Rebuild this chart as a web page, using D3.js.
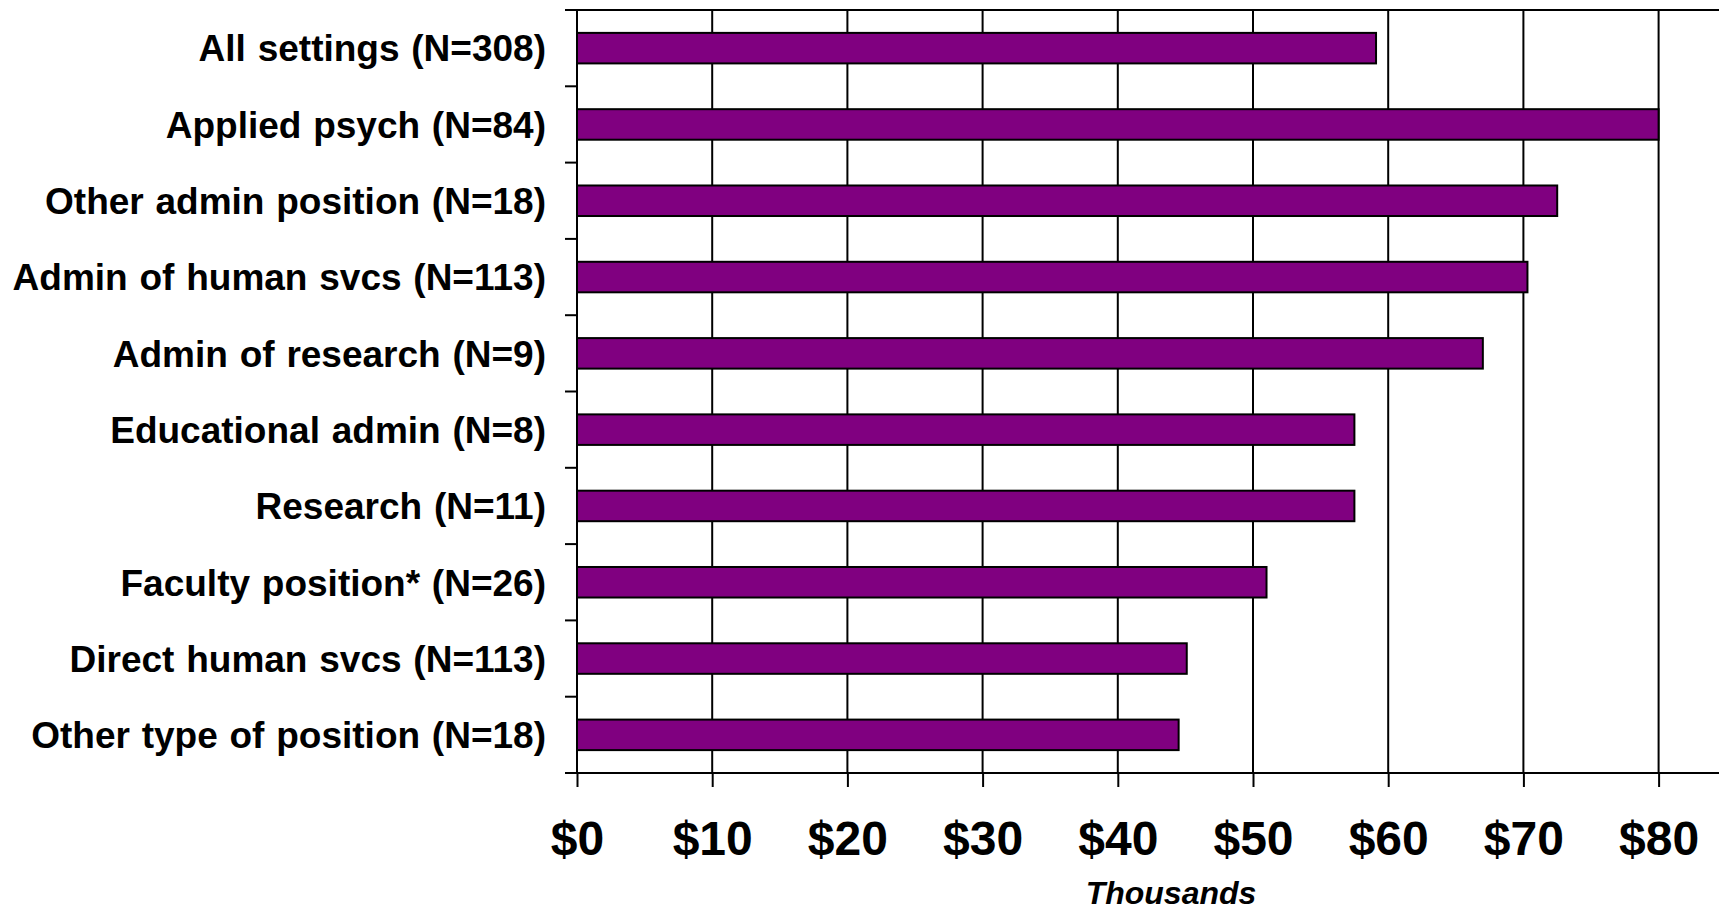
<!DOCTYPE html>
<html>
<head>
<meta charset="utf-8">
<script src="https://cdn.jsdelivr.net/npm/d3@7"></script>
<style>
  html, body { margin: 0; padding: 0; background: #fff; }
  svg { display: block; }
  text { font-family: "Liberation Sans", Arial, sans-serif; font-weight: bold; fill: #000; }
</style>
</head>
<body>
<script>
const categories = [
  "All settings (N=308)",
  "Applied psych (N=84)",
  "Other admin position (N=18)",
  "Admin of human svcs (N=113)",
  "Admin of research (N=9)",
  "Educational admin (N=8)",
  "Research (N=11)",
  "Faculty position* (N=26)",
  "Direct human svcs (N=113)",
  "Other type of position (N=18)"
];
const salaries = [59.1, 80.0, 72.5, 70.3, 67.0, 57.5, 57.5, 51.0, 45.1, 44.5];
const xTicks = [0, 10, 20, 30, 40, 50, 60, 70, 80];
const xTickLabels = ["$0", "$10", "$20", "$30", "$40", "$50", "$60", "$70", "$80"];
const xAxisTitle = "Thousands";

(function () {
const W = 1719, H = 912;
const plotLeft = 577, plotTop = 10, plotBottom = 773, rightEdge = W;

const svg = d3.select("body").append("svg").attr("width", W).attr("height", H);

const x = d3.scaleLinear().domain([0, 80]).range([plotLeft, 1658.6]);
const y = d3.scaleBand().domain(categories).range([plotTop, plotBottom])
  .paddingInner(0.6).paddingOuter(0.3);

// vertical gridlines
svg.append("g").selectAll("line").data(xTicks.filter(d => d > 0)).join("line")
  .attr("x1", d => x(d)).attr("x2", d => x(d))
  .attr("y1", plotTop).attr("y2", plotBottom)
  .attr("stroke", "#000").attr("stroke-width", 2);

// top border
svg.append("line").attr("x1", 565).attr("x2", rightEdge)
  .attr("y1", plotTop).attr("y2", plotTop).attr("stroke", "#000").attr("stroke-width", 2);

// bars
svg.append("g").selectAll("rect").data(categories).join("rect")
  .attr("x", x(0))
  .attr("y", d => y(d))
  .attr("width", (d, i) => x(salaries[i]) - x(0))
  .attr("height", y.bandwidth())
  .attr("fill", "#800080")
  .attr("stroke", "#000").attr("stroke-width", 2);

// y axis: line + ticks at band boundaries
const step = y.step();
const boundaries = d3.range(categories.length + 1).map(i => plotTop + i * step);
svg.append("line").attr("x1", plotLeft).attr("x2", plotLeft).attr("y1", plotTop).attr("y2", plotBottom)
  .attr("stroke", "#000").attr("stroke-width", 2);
svg.append("g").selectAll("line").data(boundaries).join("line")
  .attr("x1", 565).attr("x2", plotLeft).attr("y1", d => d).attr("y2", d => d)
  .attr("stroke", "#000").attr("stroke-width", 2);

// category labels
svg.append("g").selectAll("text").data(categories).join("text")
  .attr("x", 546)
  .attr("y", d => y(d) + y.bandwidth() / 2)
  .attr("dy", "0.36em")
  .attr("text-anchor", "end")
  .style("font-size", "37px")
  .style("word-spacing", "1.5px")
  .text(d => d);

// x axis
const xAxis = d3.axisBottom(x).tickValues(xTicks)
  .tickFormat((d, i) => xTickLabels[i]).tickSize(14).tickPadding(34);
const gx = svg.append("g").attr("transform", `translate(0,${plotBottom})`).call(xAxis);
gx.select(".domain").remove();
gx.attr("font-family", null).attr("font-size", null);
gx.selectAll(".tick line").attr("stroke", "#000").attr("stroke-width", 2);
gx.selectAll(".tick text")
  .style("font-size", "48px").style("font-weight", "bold").attr("fill", "#000");
svg.append("line").attr("x1", 565).attr("x2", rightEdge).attr("y1", plotBottom).attr("y2", plotBottom)
  .attr("stroke", "#000").attr("stroke-width", 2);

// axis title
svg.append("text")
  .attr("x", 1171).attr("y", 904)
  .attr("text-anchor", "middle")
  .style("font-size", "32px").style("font-style", "italic")
  .text(xAxisTitle);
})();
</script>
</body>
</html>
